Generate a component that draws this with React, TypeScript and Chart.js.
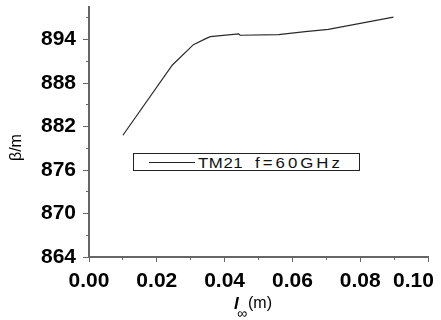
import React, { useEffect, useRef } from "react";
import { Chart, registerables } from "chart.js";

Chart.register(...registerables);

// Data
const lengths = [0.010, 0.0246, 0.0308, 0.0343, 0.0358, 0.0441, 0.0446, 0.0559, 0.0638, 0.0706, 0.0898];
const betas = [880.8, 890.5, 893.3, 894.1, 894.4, 894.8, 894.6, 894.7, 895.1, 895.4, 897.1];
const xMajorStep = 0.02;
const xMinorStep = 0.01;
const yMajorStep = 6;
const yMinorStep = 3;
const seriesLabel = "TM21";
const freqLabel = "f=60GHz";
const yTitle = "β/m";

const AXIS = "#666666";
const TICK_FONT = { family: "'Liberation Sans', Arial, sans-serif", size: 21, weight: "bold" as const };

export default function App() {
  const ref = useRef<HTMLCanvasElement | null>(null);

  useEffect(() => {
    const canvas = ref.current;
    if (!canvas) return;
    const fixFit = (w?: number, h?: number) => (s: any) => {
      if (w !== undefined) s.width = w;
      if (h !== undefined) s.height = h;
      s.paddingLeft = 0;
      s.paddingRight = 0;
      s.paddingTop = 0;
      s.paddingBottom = 0;
    };
    const chart = new Chart(canvas, {
      type: "line",
      data: {
        datasets: [
          {
            label: seriesLabel,
            data: lengths.map((x, i) => ({ x, y: betas[i] })),
            borderColor: "#2a2a2a",
            borderWidth: 1.2,
            pointRadius: 0,
            tension: 0,
            fill: false,
            xAxisID: "x",
            yAxisID: "y",
          },
        ],
      },
      options: {
        responsive: false,
        animation: false,
        layout: { padding: { left: 0, top: 7, right: 13, bottom: 0 } },
        plugins: { legend: { display: false }, tooltip: { enabled: false } },
        scales: {
          x: {
            type: "linear",
            position: "bottom",
            weight: 1,
            min: 0,
            max: 0.1,
            grid: { drawOnChartArea: false, tickLength: 5, color: AXIS, lineWidth: 1 },
            border: { display: true, color: AXIS, width: 2 },
            ticks: {
              stepSize: xMajorStep,
              includeBounds: false,
              color: "#000",
              padding: 7,
              maxRotation: 0,
              autoSkip: false,
              font: TICK_FONT,
              callback: (v: any) => {
                const n = Number(v);
                const s = n.toFixed(2);
                return n >= 0.0999 ? s + "     " : s;
              },
            },
            afterFit: fixFit(undefined, 63),
          },
          x2: {
            type: "linear",
            position: "bottom",
            weight: 0,
            min: 0,
            max: 0.1,
            grid: { drawOnChartArea: false, tickLength: 3, color: AXIS, lineWidth: 1 },
            border: { display: false },
            ticks: { stepSize: xMinorStep, includeBounds: false, display: false },
            afterFit: fixFit(undefined, 0),
          },
          y: {
            type: "linear",
            position: "left",
            weight: 1,
            min: 864,
            max: 898.5,
            grid: { drawOnChartArea: false, tickLength: 6, color: AXIS, lineWidth: 1 },
            border: { display: true, color: AXIS, width: 2 },
            ticks: {
              stepSize: yMajorStep,
              includeBounds: false,
              color: "#000",
              padding: 7,
              autoSkip: false,
              font: TICK_FONT,
              callback: (v: any) => String(Math.round(Number(v))),
            },
            title: {
              display: true,
              text: yTitle + "       ",
              color: "#000",
              padding: { top: 7, bottom: 0 },
              font: { family: "'Liberation Sans', Arial, sans-serif", size: 16, weight: "normal" as const },
            },
            afterFit: fixFit(89, undefined),
          },
          y2: {
            type: "linear",
            position: "left",
            weight: 0,
            min: 864,
            max: 898.5,
            grid: { drawOnChartArea: false, tickLength: 3, color: AXIS, lineWidth: 1 },
            border: { display: false },
            ticks: { stepSize: yMinorStep, includeBounds: false, display: false },
            afterFit: fixFit(0, undefined),
          },
        },
      },
    });
    return () => chart.destroy();
  }, []);

  const font = "'Liberation Sans', Arial, sans-serif";

  return (
    <div
      style={{
        position: "fixed",
        left: 0,
        top: 0,
        width: 441,
        height: 320,
        background: "#fff",
        fontFamily: font,
        overflow: "hidden",
      }}
    >
      <canvas ref={ref} width={441} height={320} style={{ position: "absolute", left: 0, top: 0 }} />
      {/* Legend */}
      <div
        style={{
          position: "absolute",
          left: 133,
          top: 153,
          width: 227,
          height: 18,
          boxSizing: "border-box",
          border: "1px solid #222",
          background: "#fff",
          color: "#111",
        }}
      >
        <div style={{ position: "absolute", left: 15, top: 8, width: 46, height: 1, background: "#222" }} />
        <span
          style={{
            position: "absolute",
            left: 64,
            top: 1,
            fontSize: 15,
            lineHeight: "15px",
            letterSpacing: 0.5,
            whiteSpace: "nowrap",
            transform: "scaleX(1.12)",
            transformOrigin: "left center",
          }}
        >
          {seriesLabel}
        </span>
        <span
          style={{
            position: "absolute",
            left: 121,
            top: 1,
            fontSize: 15,
            lineHeight: "15px",
            letterSpacing: 2.7,
            whiteSpace: "nowrap",
            transform: "scaleX(1.12)",
            transformOrigin: "left center",
          }}
        >
          {freqLabel}
        </span>
      </div>
      {/* X axis title */}
      <div style={{ position: "absolute", left: 234, top: 295, width: 60, height: 25, color: "#000" }}>
        <span
          style={{
            position: "absolute",
            left: 0,
            top: 0,
            fontSize: 17,
            lineHeight: "17px",
            fontWeight: "bold",
            fontStyle: "italic",
          }}
        >
          l
        </span>
        <span style={{ position: "absolute", left: 3, top: 11, fontSize: 14, lineHeight: "14px" }}>∞</span>
        <span style={{ position: "absolute", left: 14, top: 0, fontSize: 16, lineHeight: "16px" }}>(m)</span>
      </div>
    </div>
  );
}
